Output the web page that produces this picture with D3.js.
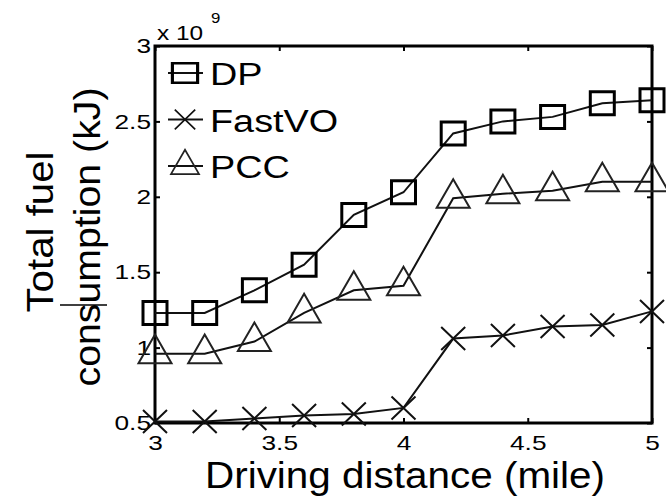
<!DOCTYPE html>
<html>
<head>
<meta charset="utf-8">
<script src="https://cdn.jsdelivr.net/npm/d3@7"></script>
<style>
  body { margin: 0; background: #fff; }
  svg { display: block; }
  text { font-family: "Liberation Sans", Arial, sans-serif; fill: #000; }
</style>
</head>
<body>
<svg id="chart" width="666" height="496"></svg>
<script>
// Chart data (values in units of 10^9 kJ)
const distances = [3, 3.2, 3.4, 3.6, 3.8, 4, 4.2, 4.4, 4.6, 4.8, 5];
const dpValues = [1.23, 1.23, 1.38, 1.55, 1.88, 2.03, 2.42, 2.50, 2.53, 2.62, 2.64];
const fastvoValues = [0.51, 0.51, 0.53, 0.55, 0.56, 0.60, 1.06, 1.08, 1.14, 1.15, 1.24];
const pccValues = [0.96, 0.96, 1.04, 1.23, 1.38, 1.41, 1.99, 2.02, 2.04, 2.10, 2.10];
const seriesNames = ['DP', 'FastVO', 'PCC'];
const xTicks = [3, 3.5, 4, 4.5, 5];
const yTicks = [0.5, 1, 1.5, 2, 2.5, 3];
const xDomain = [3, 5];
const yDomain = [0.5, 3];

const svg = d3.select('#chart');

// Scales
const x = d3.scaleLinear().domain(xDomain).range([155, 652]);
const y = d3.scaleLinear().domain(yDomain).range([423, 46]);

// Stretch a text element to a wider look, like the original export
const stretch = (sel, k) => sel.each(function () {
    const w = this.getComputedTextLength();
    d3.select(this).attr('textLength', w * k).attr('lengthAdjust', 'spacingAndGlyphs');
});

// Axes (ticks point inward)
const fmt = d => String(d);
const axisB = svg.append('g').attr('transform', `translate(0,${y(yDomain[0])})`)
    .call(d3.axisBottom(x).tickValues(xTicks).tickSize(-5).tickPadding(12).tickFormat(fmt));
const axisT = svg.append('g').attr('transform', `translate(0,${y(yDomain[1])})`)
    .call(d3.axisTop(x).tickValues(xTicks).tickSize(-5).tickFormat(''));
const axisL = svg.append('g').attr('transform', `translate(${x(xDomain[0])},0)`)
    .call(d3.axisLeft(y).tickValues(yTicks).tickSize(-5).tickPadding(4).tickFormat(fmt));
const axisR = svg.append('g').attr('transform', `translate(${x(xDomain[1])},0)`)
    .call(d3.axisRight(y).tickValues(yTicks).tickSize(-5).tickFormat(''));

[axisB, axisT, axisL, axisR].forEach(g => {
    g.select('.domain').remove();
    g.selectAll('.tick line').attr('stroke', '#000').attr('stroke-width', 2);
    g.selectAll('.tick text').attr('font-size', 21).attr('font-family', '"Liberation Sans", Arial, sans-serif')
        .attr('fill', '#000').call(stretch, 1.25);
});

// Plot frame
svg.append('rect')
    .attr('x', x(xDomain[0])).attr('y', y(yDomain[1]))
    .attr('width', x(xDomain[1]) - x(xDomain[0]))
    .attr('height', y(yDomain[0]) - y(yDomain[1]))
    .attr('fill', 'none').attr('stroke', '#000').attr('stroke-width', 3);

// Exponent label
svg.append('text').attr('x', x(xDomain[0]) + 2).attr('y', 40).attr('font-size', 20).text('x 10')
    .call(stretch, 1.22);
svg.append('text').attr('x', 211).attr('y', 23).attr('font-size', 14).text('9')
    .call(stretch, 1.2);

// Marker shapes
const markerPath = {
    DP: 'M-12,-11.5H12V11.5H-12Z',
    FastVO: 'M-12,-11.5L12,11.5M-12,11.5L12,-11.5',
    PCC: d3.symbol(d3.symbolTriangle, 472)()
};
const markerStyle = {
    DP: { stroke: '#000', width: 3 },
    FastVO: { stroke: '#111', width: 2 },
    PCC: { stroke: '#222', width: 2 }
};

const series = [
    { name: 'DP', values: dpValues },
    { name: 'FastVO', values: fastvoValues },
    { name: 'PCC', values: pccValues }
];

const line = d3.line().x(d => x(d[0])).y(d => y(d[1]));

series.forEach(s => {
    const pts = distances.map((d, i) => [d, s.values[i]]);
    svg.append('path').datum(pts)
        .attr('d', line)
        .attr('fill', 'none').attr('stroke', '#111').attr('stroke-width', 2);
    svg.selectAll(null).data(pts).enter().append('path')
        .attr('transform', d => `translate(${x(d[0])},${y(d[1])})`)
        .attr('d', markerPath[s.name])
        .attr('fill', 'none')
        .attr('stroke', markerStyle[s.name].stroke)
        .attr('stroke-width', markerStyle[s.name].width);
});

// Legend (no box)
const legend = svg.append('g');
seriesNames.forEach((name, i) => {
    const cy = 73 + i * 46.5;
    legend.append('line').attr('x1', 168).attr('x2', 203).attr('y1', cy).attr('y2', cy)
        .attr('stroke', '#111').attr('stroke-width', 2);
    legend.append('path')
        .attr('d', markerPath[name])
        .attr('fill', 'none')
        .attr('stroke', markerStyle[name].stroke)
        .attr('stroke-width', markerStyle[name].width)
        .attr('transform', `translate(185,${cy}) scale(${name === 'DP' ? '1.05,0.85' : '0.85'})`);
    legend.append('text').attr('x', 210).attr('y', cy + 12).attr('font-size', 31).text(name)
        .call(stretch, 1.22);
});

// Axis titles
svg.append('text').attr('x', 405).attr('y', 488).attr('text-anchor', 'middle')
    .attr('font-size', 36).text('Driving distance (mile)')
    .attr('textLength', 400).attr('lengthAdjust', 'spacingAndGlyphs');

svg.append('text').attr('transform', 'translate(53,232) rotate(-90)').attr('text-anchor', 'middle')
    .attr('font-size', 36).text('Total fuel')
    .attr('textLength', 161).attr('lengthAdjust', 'spacingAndGlyphs');
svg.append('text').attr('transform', 'translate(100,237) rotate(-90)').attr('text-anchor', 'middle')
    .attr('font-size', 36).text('consumption (kJ)')
    .attr('textLength', 299).attr('lengthAdjust', 'spacingAndGlyphs');

// stray rule between the title lines, as in the original export
svg.append('line').attr('x1', 60).attr('x2', 107).attr('y1', 305).attr('y2', 305)
    .attr('stroke', '#000').attr('stroke-width', 1.5);
</script>
</body>
</html>
